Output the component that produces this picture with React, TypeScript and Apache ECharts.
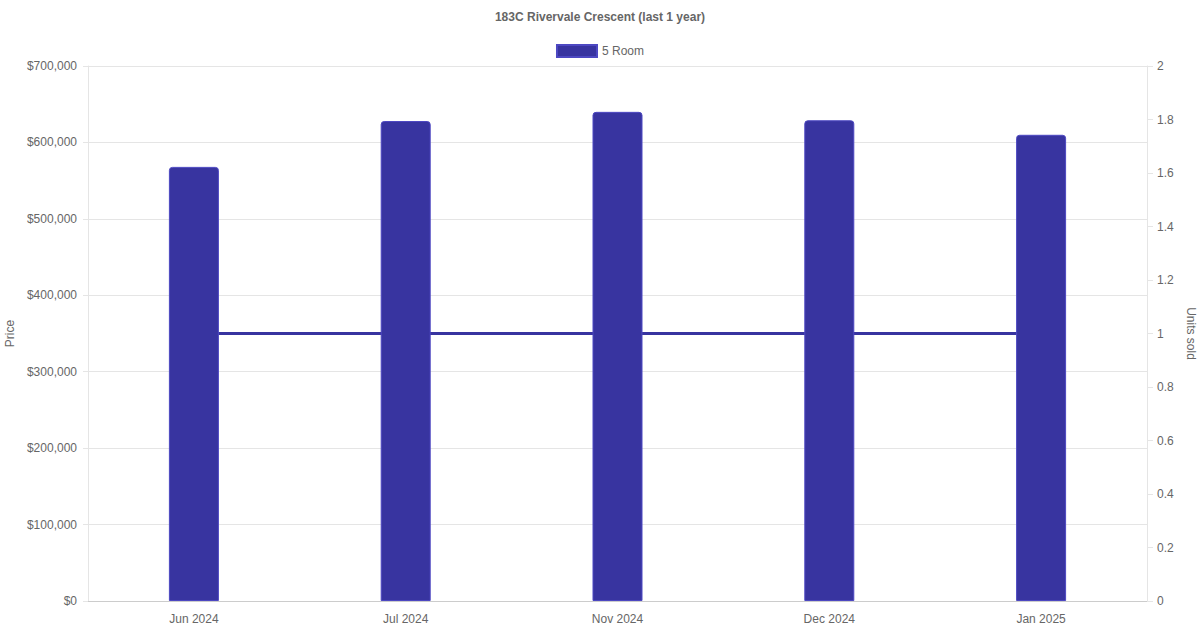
import { useEffect, useRef } from "react"
import * as echarts from "echarts"

const months = ["Jun 2024", "Jul 2024", "Nov 2024", "Dec 2024", "Jan 2025"]
const prices = [568000, 628000, 640000, 629000, 610000]
const unitsSold = [1, 1, 1, 1, 1]

const FONT = "'Liberation Sans', Arial, Helvetica, sans-serif"
const BAR_COLOR = "#3834a0"
const TEXT = "#666666"
const GRID = "#e5e5e5"

export default function App() {
  const chartRef = useRef<HTMLDivElement>(null)

  useEffect(() => {
    if (!chartRef.current) return
    const chart = echarts.init(chartRef.current, null, { renderer: "svg" })

    const option = {
      animation: false,
      textStyle: { fontFamily: FONT },
      title: {
        text: "183C Rivervale Crescent (last 1 year)",
        left: "center",
        top: 6,
        textStyle: { fontSize: 12, fontWeight: "bold", color: TEXT, fontFamily: FONT }
      },
      legend: {
        data: ["5 Room"],
        top: 39,
        left: "center",
        itemWidth: 40,
        itemHeight: 12,
        itemGap: 10,
        icon: "rect",
        textStyle: { fontSize: 12, color: TEXT, fontFamily: FONT }
      },
      grid: {
        left: 88,
        right: 53,
        top: 66,
        bottom: 29,
        containLabel: false,
        outerBoundsMode: "none"
      },
      xAxis: {
        type: "category",
        data: months,
        axisLine: { lineStyle: { color: "#cccccc" } },
        axisTick: { show: false },
        axisLabel: { color: TEXT, fontSize: 12, margin: 12, fontFamily: FONT },
        splitLine: { show: false }
      },
      yAxis: [
        {
          type: "value",
          min: 0,
          max: 700000,
          interval: 100000,
          name: "Price",
          nameLocation: "middle",
          nameRotate: 90,
          nameGap: 72,
          nameTextStyle: { color: TEXT, fontSize: 12, fontFamily: FONT },
          axisLine: { show: true, lineStyle: { color: GRID } },
          axisTick: { show: true, length: 5, lineStyle: { color: GRID } },
          axisLabel: {
            color: TEXT,
            fontSize: 12,
            margin: 11,
            fontFamily: FONT,
            formatter: (v: number) => "$" + v.toLocaleString("en-US")
          },
          splitLine: { lineStyle: { color: GRID } }
        },
        {
          type: "value",
          min: 0,
          max: 2,
          interval: 0.2,
          position: "right",
          name: "Units sold",
          nameLocation: "middle",
          nameRotate: -90,
          nameGap: 36,
          nameTextStyle: { color: TEXT, fontSize: 12, fontFamily: FONT },
          axisLine: { show: true, lineStyle: { color: GRID } },
          axisTick: { show: true, length: 6, lineStyle: { color: GRID } },
          axisLabel: {
            color: TEXT,
            fontSize: 12,
            margin: 10,
            fontFamily: FONT,
            formatter: (v: number) => String(Math.round(v * 10) / 10)
          },
          splitLine: { show: false }
        }
      ],
      series: [
        {
          name: "5 Room",
          type: "bar",
          data: prices,
          barWidth: 50,
          z: 3,
          itemStyle: {
            color: BAR_COLOR,
            borderColor: "#4d48c2",
            borderWidth: 1,
            borderRadius: [3, 3, 0, 0]
          }
        },
        {
          name: "Units sold",
          type: "line",
          yAxisIndex: 1,
          data: unitsSold,
          showSymbol: false,
          symbol: "none",
          z: 1,
          lineStyle: { color: BAR_COLOR, width: 3 },
          itemStyle: { color: BAR_COLOR }
        }
      ]
    }

    chart.setOption(option)

    return () => {
      chart.dispose()
    }
  }, [])

  return (
    <div
      ref={chartRef}
      style={{ position: "fixed", left: 0, top: 0, width: "1200px", height: "630px", background: "#fff" }}
    />
  )
}
